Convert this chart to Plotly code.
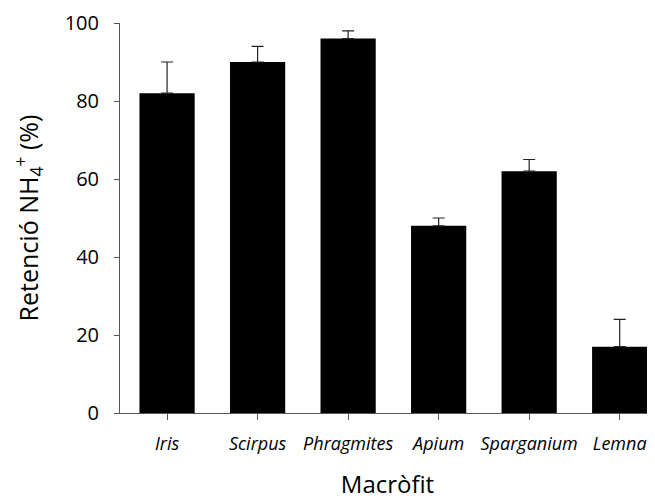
import plotly.graph_objects as go

categories = ["Iris", "Scirpus", "Phragmites", "Apium", "Sparganium", "Lemna"]
values = [82, 90, 96, 48, 62, 17]
errors = [8, 4, 2, 2, 3, 7]
y_ticks = [0, 20, 40, 60, 80, 100]

fig = go.Figure(go.Bar(
    x=categories, y=values,
    marker=dict(color="black", line=dict(width=0)),
    width=0.61,
    error_y=dict(type="data", symmetric=False, array=errors,
                 arrayminus=[0] * len(errors), color="#222",
                 thickness=1.2, width=6),
))

# page has an 8px body margin; figure is sized to fill the rest of the window
fig.update_layout(
    width=647, height=492,
    margin=dict(l=112, r=0, t=15, b=87),
    plot_bgcolor="white", paper_bgcolor="white",
    font=dict(family="Open Sans", color="black"),
    showlegend=False,
    xaxis=dict(
        range=[-0.52, 5.39], automargin=False,
        showline=True, linecolor="#555", linewidth=1,
        ticks="outside", ticklen=6, tickcolor="#555",
        tickfont=dict(size=18, style="italic"),
        ticklabelstandoff=8,
        title=dict(text="Macròfit", font=dict(size=24), standoff=24),
        showgrid=False, zeroline=False,
    ),
    yaxis=dict(
        range=[0, 100], tickvals=y_ticks, automargin=False,
        showline=True, linecolor="#555", linewidth=1,
        ticks="outside", ticklen=5, tickcolor="#555",
        tickfont=dict(size=20),
        ticklabelstandoff=11,
        title=dict(text="Retenció NH<sub>4</sub><sup>+</sup> (%)", font=dict(size=25), standoff=20),
        showgrid=False, zeroline=False,
    ),
)

fig.write_html("out.html")
